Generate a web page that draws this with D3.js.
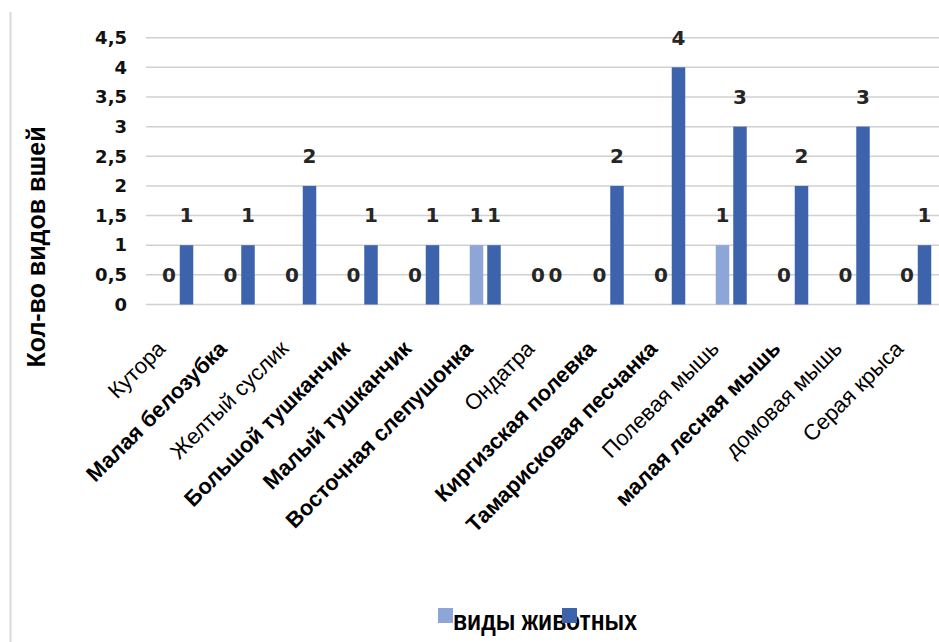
<!DOCTYPE html>
<html>
<head>
<meta charset="utf-8">
<script src="https://cdn.jsdelivr.net/npm/d3@7"></script>
<style>
  html, body { margin: 0; padding: 0; background: #fff; }
  svg { display: block; }
</style>
</head>
<body>
<svg id="chart" width="939" height="642"></svg>
<script>
// Виды грызунов и насекомоядных
const categories = [
  "Кутора", "Малая белозубка", "Желтый суслик", "Большой тушканчик",
  "Малый тушканчик", "Восточная слепушонка", "Ондатра", "Киргизская полевка",
  "Тамарисковая песчанка", "Полевая мышь", "малая лесная мышь", "домовая мышь",
  "Серая крыса"
];
// Подписи, набранные полужирным
const boldCategories = [
  "Малая белозубка", "Большой тушканчик", "Малый тушканчик",
  "Восточная слепушонка", "Киргизская полевка", "Тамарисковая песчанка",
  "малая лесная мышь"
];
const seriesNames = ["ряд 1", "ряд 2"];
const seriesA = [0, 0, 0, 0, 0, 1, 0, 0, 0, 1, 0, 0, 0];
const seriesB = [1, 1, 2, 1, 1, 1, 0, 2, 4, 3, 2, 3, 1];
const yTicks = [0, 0.5, 1, 1.5, 2, 2.5, 3, 3.5, 4, 4.5];
const yTitle = "Кол-во видов вшей";
const legendTitle = "виды животных";

const colors = ["#8EA5D8", "#3D63AD"];

const svg = d3.select("#chart");

// Frame line at the left edge
svg.append("line")
  .attr("x1", 10.5).attr("x2", 10.5)
  .attr("y1", 12).attr("y2", 642)
  .attr("stroke", "#d9d9d9").attr("stroke-width", 2);

const x = d3.scaleBand().domain(categories).range([147, 946.5]).padding(0);
const x1 = d3.scaleBand().domain(seriesNames).range([0, x.bandwidth()])
  .paddingInner(0.2286).paddingOuter(0.871);
const y = d3.scaleLinear().domain([0, 4.5]).range([304.5, 37.7]);

// Grid lines
svg.append("g").selectAll("line")
  .data(yTicks)
  .join("line")
  .attr("x1", 146).attr("x2", 939)
  .attr("y1", d => y(d)).attr("y2", d => y(d))
  .attr("stroke", "#d0d0d0").attr("stroke-width", 1.5);

// Y axis tick labels
const fmt = d => String(d).replace(".", ",");
const yAxis = d3.axisLeft(y).tickValues(yTicks).tickFormat(fmt).tickSize(0).tickPadding(0);
const gy = svg.append("g").attr("transform", "translate(127,0)").call(yAxis);
gy.select(".domain").remove();
gy.selectAll("text")
  .attr("font-family", "DejaVu Sans")
  .attr("font-weight", "bold")
  .attr("font-size", 18)
  .attr("fill", "#111");

// Y axis title
svg.append("text")
  .attr("transform", "translate(45,247) rotate(-90)")
  .attr("text-anchor", "middle")
  .attr("font-family", "Liberation Sans")
  .attr("font-weight", "bold")
  .attr("font-size", 25)
  .attr("fill", "#000")
  .text(yTitle);

// Bars and value labels
const rows = categories.map((c, i) => ({
  cat: c,
  vals: [{ s: seriesNames[0], v: seriesA[i], k: 0 }, { s: seriesNames[1], v: seriesB[i], k: 1 }]
}));

const groups = svg.append("g").selectAll("g")
  .data(rows)
  .join("g")
  .attr("transform", d => `translate(${x(d.cat)},0)`);

groups.selectAll("rect")
  .data(d => d.vals)
  .join("rect")
  .attr("x", d => x1(d.s))
  .attr("width", x1.bandwidth())
  .attr("y", d => y(d.v))
  .attr("height", d => y(0) - y(d.v))
  .attr("fill", d => colors[d.k]);

groups.selectAll("text")
  .data(d => d.vals)
  .join("text")
  .attr("x", d => x1(d.s) + x1.bandwidth() / 2)
  .attr("y", d => y(d.v) - 30)
  .attr("dy", "0.36em")
  .attr("text-anchor", "middle")
  .attr("font-family", "DejaVu Sans")
  .attr("font-weight", "bold")
  .attr("font-size", 20)
  .attr("fill", "#262626")
  .text(d => d.v);

// Category labels
svg.append("g").selectAll("text")
  .data(categories)
  .join("text")
  .attr("transform", d => `translate(${x(d) + x.bandwidth() / 2 - 11},350) rotate(-45)`)
  .attr("text-anchor", "end")
  .attr("font-family", "Liberation Sans")
  .attr("font-size", 22)
  .attr("font-weight", d => boldCategories.includes(d) ? "bold" : "normal")
  .attr("fill", "#000")
  .text(d => d);

// Legend
svg.append("text")
  .attr("x", 453).attr("y", 630)
  .attr("font-family", "Liberation Sans")
  .attr("font-weight", "bold")
  .attr("font-size", 27)
  .attr("textLength", 184)
  .attr("lengthAdjust", "spacingAndGlyphs")
  .attr("fill", "#000")
  .text(legendTitle);

svg.append("g").selectAll("rect")
  .data(seriesNames)
  .join("rect")
  .attr("x", (d, i) => [438, 562][i])
  .attr("y", 608)
  .attr("width", 15).attr("height", 15)
  .attr("fill", (d, i) => colors[i]);
</script>
</body>
</html>
